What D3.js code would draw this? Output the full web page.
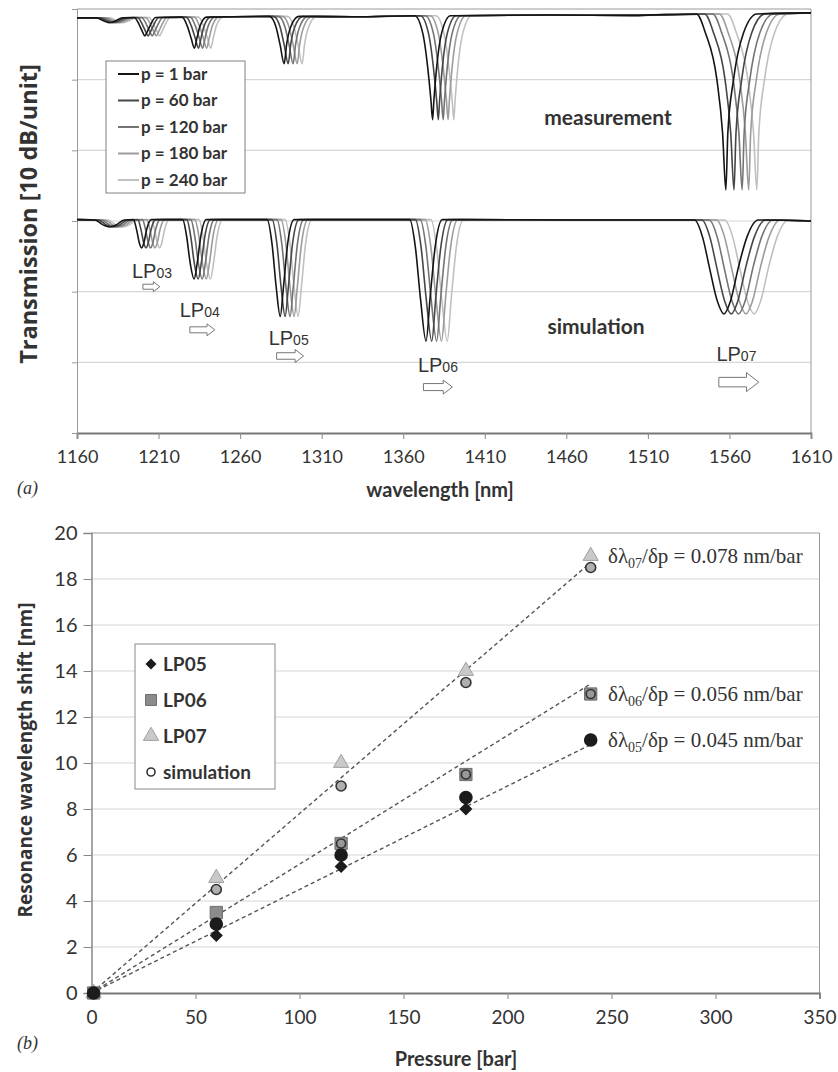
<!DOCTYPE html>
<html>
<head>
<meta charset="utf-8">
<script src="https://cdn.jsdelivr.net/npm/d3@7"></script>
<style>
  body { margin: 0; background: #fff; }
  text { fill: #333; }
</style>
</head>
<body>
<div id="chart"></div>
<script>
// ---- panel (a): spectra ----
var pressureLabels = ['p = 1 bar', 'p = 60 bar', 'p = 120 bar', 'p = 180 bar', 'p = 240 bar'];

// measurement dips (p = 1 bar), wavelength in nm, transmission in units of 10 dB
var measCenter = [1180, 1201.6, 1232, 1287, 1378, 1557.8];
var measBase = [-0.125, -0.12, -0.115, -0.105, -0.095, -0.07];
var measProfile = [
  [[-8, 0], [-3, -0.05], [0, -0.07], [3, -0.05], [8, 0]],
  [[-6.5, 0], [-3.5, -0.1], [-1.5, -0.2], [0, -0.26], [1.5, -0.2], [3.5, -0.1], [6.5, 0]],
  [[-7.5, 0], [-4.5, -0.12], [-2, -0.3], [0, -0.44], [1.5, -0.3], [3.5, -0.12], [7.5, 0]],
  [[-9, 0], [-5, -0.15], [-2.5, -0.4], [0, -0.67], [1.5, -0.4], [4, -0.15], [9, 0]],
  [[-11, 0], [-6, -0.25], [-3, -0.73], [-1, -1.2], [0, -1.47], [0.8, -1.2], [2.5, -0.73], [5.5, -0.25], [11, 0]],
  [[-18, 0], [-12.5, -0.27], [-5.5, -0.93], [-2, -1.69], [0, -2.49], [1.2, -1.69], [4.7, -0.93], [10.8, -0.27], [19, 0]]
];
var measShift = [
  [0, 2, 4, 6, 8], [0, 2, 4.5, 7, 9], [0, 2.5, 5, 7.5, 10],
  [0, 2.5, 5.5, 8, 11], [0, 3.5, 6.5, 9.5, 13], [0, 5, 10, 14, 19]
];
var measBaseline = [[1160, -0.125], [1330, -0.11], [1450, -0.085], [1500, -0.09], [1610, -0.055]];

// simulated dips (p = 1 bar)
var simCenter = [1180, 1199.6, 1231.8, 1284.6, 1374, 1556.6];
var simBase = [-2.985, -2.98, -2.98, -2.98, -2.98, -2.985];
var simProfile = [
  [[-9, 0], [-4, -0.07], [0, -0.1], [4, -0.07], [9, 0]],
  [[-5, 0], [-3, -0.15], [-1.5, -0.32], [0, -0.4], [1.5, -0.32], [3, -0.15], [6, 0]],
  [[-7, 0], [-4.5, -0.25], [-2.5, -0.6], [0, -0.84], [2, -0.6], [4, -0.25], [7.5, 0]],
  [[-8, 0], [-5, -0.35], [-2.5, -0.95], [0, -1.37], [2, -0.95], [4.5, -0.35], [8.5, 0]],
  [[-10, 0], [-6.5, -0.4], [-3.5, -1.1], [0, -1.72], [2.5, -1.1], [5.5, -0.4], [10, 0]],
  [[-18, 0], [-13, -0.25], [-9, -0.66], [-4, -1.15], [0, -1.33], [4, -1.15], [9, -0.66], [14, -0.25], [21, 0]]
];
var simShift = [
  [0, 2, 4, 6, 8], [0, 2.7, 5.5, 8.2, 11], [0, 2.5, 5, 7.5, 10],
  [0, 3, 6, 8.5, 11], [0, 3.5, 6.5, 9.5, 13], [0, 4.5, 9, 13.5, 18.5]
];
var simBaseline = [[1160, -2.98], [1330, -2.98], [1470, -2.985], [1610, -3.0]];

var modeNames = ['03', '04', '05', '06', '07'];
var wlTicks = [1160, 1210, 1260, 1310, 1360, 1410, 1460, 1510, 1560, 1610];

// ---- panel (b): wavelength shift vs pressure ----
var pressure = [1, 60, 120, 180, 240];
var lp05 = [0, 2.5, 5.5, 8, 11];
var lp06 = [0, 3.5, 6.5, 9.5, 13];
var lp07 = [0, 5, 10, 14, 19];
var sim05 = [0, 3, 6, 8.5, 11];
var sim06 = [0, 3, 6.5, 9.5, 13];
var sim07 = [0, 4.5, 9, 13.5, 18.5];
var slopes = [0.045, 0.056, 0.078];
var slopeModes = ['05', '06', '07'];
var pressureTicks = [0, 50, 100, 150, 200, 250, 300, 350];
var shiftTicks = [0, 2, 4, 6, 8, 10, 12, 14, 16, 18, 20];

var W = 838, H = 1072;
var curveColors = ['#141414', '#464646', '#747474', '#9c9c9c', '#c0c0c0'];
var sansC = 'Lato, "Open Sans", sans-serif';
var sansT = '"Open Sans", Lato, sans-serif';

var svg = d3.select('#chart').append('svg')
    .attr('width', W)
    .attr('height', H)
    .style('background', '#fff');

// ================= panel (a) =================
var xa = d3.scaleLinear().domain([1160, 1610]).range([77, 811]);
var ya = d3.scaleLinear().domain([-6, 0]).range([433, 9]);

var ga = svg.append('g');

ga.selectAll('.grid-a')
    .data([-5, -4, -3, -2, -1])
  .enter().append('line')
    .attr('x1', xa(1160)).attr('x2', xa(1610))
    .attr('y1', function(d) { return ya(d); })
    .attr('y2', function(d) { return ya(d); })
    .attr('stroke', '#d6d6d6')
    .attr('stroke-width', 1.2);

// plot frame top / right
ga.append('line')
    .attr('x1', xa(1160)).attr('x2', xa(1610))
    .attr('y1', ya(0)).attr('y2', ya(0))
    .attr('stroke', '#9a9a9a');
ga.append('line')
    .attr('x1', xa(1610)).attr('x2', xa(1610))
    .attr('y1', ya(0)).attr('y2', ya(-6))
    .attr('stroke', '#9a9a9a');

var xAxisA = ga.append('g')
    .attr('transform', 'translate(0,' + ya(-6) + ')')
    .call(d3.axisBottom(xa).tickValues(wlTicks).tickSize(6).tickPadding(11).tickFormat(d3.format('d')));
xAxisA.select('.domain').attr('stroke', '#777').attr('stroke-width', 1.8);
xAxisA.selectAll('.tick line').attr('stroke', '#888');
xAxisA.selectAll('text').attr('font-family', sansC).attr('font-size', 18).attr('fill', '#444');

var yAxisA = ga.append('g')
    .attr('transform', 'translate(' + xa(1160) + ',0)')
    .call(d3.axisLeft(ya).tickValues([-6, -5, -4, -3, -2, -1, 0]).tickSize(5).tickFormat(''));
yAxisA.select('.domain').attr('stroke', '#999');
yAxisA.selectAll('.tick line').attr('stroke', '#999');

function spectrum(center, base, profile, shift, baseline, k) {
  var pts = baseline.slice();
  center.forEach(function(c, i) {
    profile[i].forEach(function(p) {
      pts.push([c + shift[i][k] + p[0], base[i] + p[1]]);
    });
  });
  pts.sort(function(a, b) { return a[0] - b[0]; });
  return pts;
}

var lineA = d3.line()
    .x(function(d) { return xa(d[0]); })
    .y(function(d) { return ya(d[1]); })
    .curve(d3.curveMonotoneX);

// lightest first, darkest on top
[4, 3, 2, 1, 0].forEach(function(k) {
  ga.append('path')
      .attr('d', lineA(spectrum(measCenter, measBase, measProfile, measShift, measBaseline, k)))
      .attr('fill', 'none')
      .attr('stroke', curveColors[k])
      .attr('stroke-width', 1.6);
  ga.append('path')
      .attr('d', lineA(spectrum(simCenter, simBase, simProfile, simShift, simBaseline, k)))
      .attr('fill', 'none')
      .attr('stroke', curveColors[k])
      .attr('stroke-width', 1.6);
});

ga.append('text')
    .attr('x', 608).attr('y', 125)
    .attr('text-anchor', 'middle')
    .attr('font-family', sansC).attr('font-weight', 'bold').attr('font-size', 21)
    .attr('fill', '#333')
    .text('measurement');
ga.append('text')
    .attr('x', 596).attr('y', 334)
    .attr('text-anchor', 'middle')
    .attr('font-family', sansC).attr('font-weight', 'bold').attr('font-size', 21)
    .attr('fill', '#333')
    .text('simulation');

// mode labels and shift arrows (simulation half)
var labelX = [1193.7, 1223, 1277.5, 1369, 1552];
var labelY = [-3.81, -4.36, -4.75, -5.14, -4.98];
var arrowX0 = [1200.4, 1229.2, 1282.4, 1372.4, 1553.5];
var arrowX1 = [1210.8, 1244.5, 1298.9, 1390.1, 1578];
var arrowY = [-3.93, -4.54, -4.91, -5.35, -5.28];
var arrowH = [10, 12, 13, 14, 19];

modeNames.forEach(function(m, i) {
  var t = ga.append('text')
      .attr('x', xa(labelX[i])).attr('y', ya(labelY[i]))
      .attr('font-family', '"Liberation Sans", Arial, sans-serif')
      .attr('font-size', 20)
      .attr('fill', '#222');
  t.append('tspan').text('LP');
  t.append('tspan').attr('font-size', 14).text(m);

  var x0 = xa(arrowX0[i]), x1 = xa(arrowX1[i]), yc = ya(arrowY[i]), h = arrowH[i];
  var bh = h * 0.5, hl = h * 0.65, xh = x1 - hl;
  ga.append('path')
      .attr('d', 'M' + x0 + ',' + (yc - bh / 2) + 'L' + xh + ',' + (yc - bh / 2) +
                 'L' + xh + ',' + (yc - h / 2) + 'L' + x1 + ',' + yc +
                 'L' + xh + ',' + (yc + h / 2) + 'L' + xh + ',' + (yc + bh / 2) +
                 'L' + x0 + ',' + (yc + bh / 2) + 'Z')
      .attr('fill', '#fff')
      .attr('stroke', '#777')
      .attr('stroke-width', 1);
});

// legend (a)
ga.append('rect')
    .attr('x', 106).attr('y', 61).attr('width', 139).attr('height', 132)
    .attr('fill', '#fff').attr('stroke', '#808080');
pressureLabels.forEach(function(lab, k) {
  var yy = 74 + k * 26.5;
  ga.append('line')
      .attr('x1', 118).attr('x2', 139).attr('y1', yy).attr('y2', yy)
      .attr('stroke', curveColors[k]).attr('stroke-width', 2);
  ga.append('text')
      .attr('x', 141).attr('y', yy)
      .attr('dy', '0.35em')
      .attr('font-family', sansC).attr('font-weight', 'bold').attr('font-size', 17)
      .attr('fill', '#222')
      .text(lab);
});

svg.append('text')
    .attr('transform', 'translate(37,' + 214 + ') rotate(-90)')
    .attr('text-anchor', 'middle')
    .attr('font-family', sansT).attr('font-weight', 'bold').attr('font-size', 23.5)
    .attr('fill', '#333')
    .text('Transmission [10 dB/unit]');
svg.append('text')
    .attr('x', 440).attr('y', 497)
    .attr('text-anchor', 'middle')
    .attr('font-family', sansC).attr('font-weight', 'bold').attr('font-size', 20)
    .attr('fill', '#333')
    .text('wavelength [nm]');
svg.append('text')
    .attr('x', 17).attr('y', 494)
    .attr('font-family', '"Liberation Serif", serif').attr('font-style', 'italic').attr('font-size', 18)
    .attr('fill', '#222')
    .text('(a)');

// ================= panel (b) =================
var xb = d3.scaleLinear().domain([0, 350]).range([91.5, 819.5]);
var yb = d3.scaleLinear().domain([0, 20]).range([993, 533]);

var gb = svg.append('g');

gb.selectAll('.grid-b')
    .data(shiftTicks.filter(function(d) { return d > 0 && d < 20; }))
  .enter().append('line')
    .attr('x1', xb(0)).attr('x2', xb(350))
    .attr('y1', function(d) { return yb(d); })
    .attr('y2', function(d) { return yb(d); })
    .attr('stroke', '#d6d6d6')
    .attr('stroke-width', 1.2);
gb.append('line')
    .attr('x1', xb(0)).attr('x2', xb(350))
    .attr('y1', yb(20)).attr('y2', yb(20))
    .attr('stroke', '#9a9a9a');
gb.append('line')
    .attr('x1', xb(350)).attr('x2', xb(350))
    .attr('y1', yb(20)).attr('y2', yb(0))
    .attr('stroke', '#9a9a9a');

var xAxisB = gb.append('g')
    .attr('transform', 'translate(0,' + yb(0) + ')')
    .call(d3.axisBottom(xb).tickValues(pressureTicks).tickSize(6).tickPadding(12));
xAxisB.select('.domain').attr('stroke', '#777').attr('stroke-width', 1.8);
xAxisB.selectAll('.tick line').attr('stroke', '#888');
xAxisB.selectAll('text').attr('font-family', sansC).attr('font-size', 19).attr('fill', '#444');

var yAxisB = gb.append('g')
    .attr('transform', 'translate(' + xb(0) + ',0)')
    .call(d3.axisLeft(yb).tickValues(shiftTicks).tickSize(8).tickPadding(6));
yAxisB.select('.domain').attr('stroke', '#888').attr('stroke-width', 1.5);
yAxisB.selectAll('.tick line').attr('stroke', '#888');
yAxisB.selectAll('text').attr('font-family', sansC).attr('font-size', 20).attr('fill', '#444');

// fitted dashed lines through origin
slopes.forEach(function(s) {
  gb.append('line')
      .attr('x1', xb(0)).attr('y1', yb(0))
      .attr('x2', xb(240)).attr('y2', yb(s * 240))
      .attr('stroke', '#555')
      .attr('stroke-width', 1.4)
      .attr('stroke-dasharray', '4,3');
});

var triangle = d3.symbol().type(d3.symbolTriangle).size(100);
var square = d3.symbol().type(d3.symbolSquare).size(150);
var diamond = 'M0,-6.5L6.5,0L0,6.5L-6.5,0Z';

gb.selectAll('.lp07')
    .data(pressure)
  .enter().append('path')
    .attr('d', triangle)
    .attr('transform', function(d, i) { return 'translate(' + xb(d) + ',' + yb(lp07[i]) + ')'; })
    .attr('fill', '#c9c9c9').attr('stroke', '#a0a0a0');
gb.selectAll('.lp06')
    .data(pressure)
  .enter().append('path')
    .attr('d', square)
    .attr('transform', function(d, i) { return 'translate(' + xb(d) + ',' + yb(lp06[i]) + ')'; })
    .attr('fill', '#8c8c8c').attr('stroke', '#6e6e6e');
gb.selectAll('.lp05')
    .data(pressure)
  .enter().append('path')
    .attr('d', diamond)
    .attr('transform', function(d, i) { return 'translate(' + xb(d) + ',' + yb(lp05[i]) + ')'; })
    .attr('fill', '#1c1c1c');

function simDots(vals, fill, stroke, r) {
  gb.selectAll(null)
      .data(pressure)
    .enter().append('circle')
      .attr('cx', function(d) { return xb(d); })
      .attr('cy', function(d, i) { return yb(vals[i]); })
      .attr('r', r)
      .attr('fill', fill)
      .attr('stroke', stroke)
      .attr('stroke-width', 1.6);
}
simDots(sim07, '#b0b0b0', '#333', 5);
simDots(sim06, '#999', '#333', 4.5);
simDots(sim05, '#1c1c1c', '#1c1c1c', 6);

// slope annotations
var annotY = [11, 13, 19];
slopes.forEach(function(s, i) {
  var t = gb.append('text')
      .attr('x', 608).attr('y', yb(annotY[i]))
      .attr('dy', '0.35em')
      .attr('font-family', '"Liberation Serif", "Times New Roman", serif')
      .attr('font-size', 21)
      .attr('fill', '#222');
  t.append('tspan').text('δλ');
  t.append('tspan').attr('font-size', 14).attr('dy', 5).text(slopeModes[i]);
  t.append('tspan').attr('dy', -5).text('/δp = ' + d3.format('.3f')(s) + ' nm/bar');
});

// legend (b)
gb.append('rect')
    .attr('x', 135).attr('y', 644).attr('width', 140).attr('height', 145)
    .attr('fill', '#fff').attr('stroke', '#888');
var legB = ['LP05', 'LP06', 'LP07', 'simulation'];
legB.forEach(function(lab, i) {
  var yy = 664 + i * 36, g = gb.append('g').attr('transform', 'translate(151,' + yy + ')');
  if (i === 0) g.append('path').attr('d', 'M0,-5.5L5.5,0L0,5.5L-5.5,0Z').attr('fill', '#1c1c1c');
  if (i === 1) g.append('path').attr('d', d3.symbol().type(d3.symbolSquare).size(120)).attr('fill', '#8c8c8c').attr('stroke', '#6e6e6e');
  if (i === 2) g.append('path').attr('d', triangle).attr('fill', '#c9c9c9').attr('stroke', '#a0a0a0');
  if (i === 3) g.append('circle').attr('r', 4).attr('fill', '#fff').attr('stroke', '#333').attr('stroke-width', 1.6);
  gb.append('text')
      .attr('x', 163).attr('y', yy)
      .attr('dy', '0.35em')
      .attr('font-family', sansC).attr('font-weight', 'bold').attr('font-size', 19)
      .attr('fill', '#222')
      .text(lab);
});

svg.append('text')
    .attr('transform', 'translate(32,' + 760 + ') rotate(-90)')
    .attr('text-anchor', 'middle')
    .attr('font-family', sansT).attr('font-weight', 'bold').attr('font-size', 19)
    .attr('fill', '#333')
    .text('Resonance wavelength shift [nm]');
svg.append('text')
    .attr('x', 456).attr('y', 1066)
    .attr('text-anchor', 'middle')
    .attr('font-family', sansC).attr('font-weight', 'bold').attr('font-size', 20)
    .attr('fill', '#333')
    .text('Pressure [bar]');
svg.append('text')
    .attr('x', 17).attr('y', 1049)
    .attr('font-family', '"Liberation Serif", serif').attr('font-style', 'italic').attr('font-size', 18)
    .attr('fill', '#222')
    .text('(b)');
</script>
</body>
</html>
